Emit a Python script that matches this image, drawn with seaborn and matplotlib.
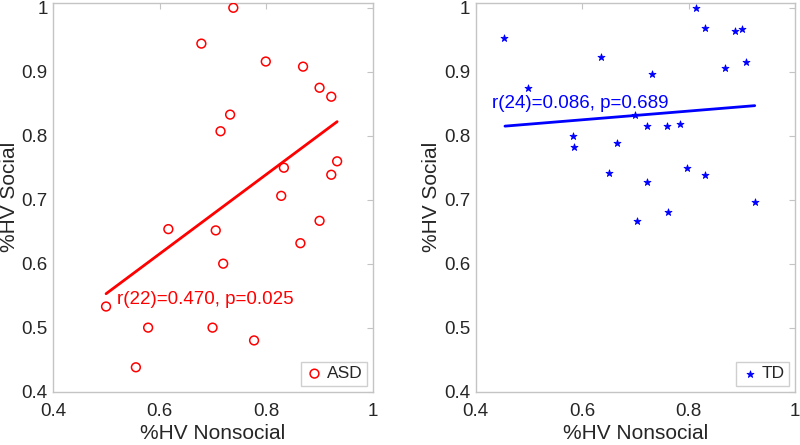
import matplotlib
matplotlib.use("Agg")
import matplotlib.pyplot as plt
import seaborn as sns
import pandas as pd

# ASD group
asd_nonsocial = [0.738, 0.678, 0.799, 0.869, 0.900, 0.922, 0.732, 0.714, 0.933, 0.833, 0.922,
                 0.828, 0.900, 0.616, 0.705, 0.864, 0.719, 0.499, 0.578, 0.699, 0.777, 0.555]
asd_social = [1.000, 0.944, 0.916, 0.908, 0.875, 0.861, 0.833, 0.807, 0.760, 0.750, 0.739,
              0.706, 0.667, 0.654, 0.652, 0.632, 0.600, 0.533, 0.500, 0.500, 0.480, 0.438]
asd_fit_x = [0.499, 0.933]
asd_fit_y = [0.553, 0.822]
asd_stats = "r(22)=0.470, p=0.025"

# TD group
td_nonsocial = [0.453, 0.499, 0.635, 0.732, 0.813, 0.831, 0.887, 0.901, 0.869, 0.908, 0.699, 0.582,
                0.585, 0.665, 0.721, 0.759, 0.784, 0.651, 0.721, 0.797, 0.831, 0.924, 0.703, 0.761]
td_social = [0.952, 0.875, 0.923, 0.897, 1.000, 0.969, 0.964, 0.967, 0.906, 0.916, 0.833, 0.800,
             0.782, 0.789, 0.815, 0.815, 0.818, 0.741, 0.727, 0.750, 0.739, 0.696, 0.667, 0.681]
td_fit_x = [0.455, 0.924]
td_fit_y = [0.815, 0.847]
td_stats = "r(24)=0.086, p=0.689"

ticks = [0.4, 0.5, 0.6, 0.7, 0.8, 0.9, 1.0]
tick_labels = ["0.4", "0.5", "0.6", "0.7", "0.8", "0.9", "1"]
xticks = [0.4, 0.6, 0.8, 1.0]
xtick_labels = ["0.4", "0.6", "0.8", "1"]

sns.set_style("white")
plt.rcParams['font.family'] = ['Liberation Sans', 'DejaVu Sans']

RED = "#ff0000"
BLUE = "#0000ff"
SPINE = "#c4c4c4"
TXT = "#262626"

fig = plt.figure(figsize=(8, 4.45), dpi=100)
ax1 = fig.add_axes([0.0667, 0.12, 0.3993, 0.874])
ax2 = fig.add_axes([0.5946, 0.12, 0.3994, 0.874])

df_asd = pd.DataFrame({'x': asd_nonsocial, 'y': asd_social})
df_td = pd.DataFrame({'x': td_nonsocial, 'y': td_social})

sns.scatterplot(x='x', y='y', data=df_asd, ax=ax1, marker='o', s=40, facecolors='none',
                edgecolor=RED, linewidth=1.1, label='ASD', zorder=3)
sns.lineplot(x=asd_fit_x, y=asd_fit_y, ax=ax1, color=RED, linewidth=2, legend=False)
ax1.text(0.52, 0.544, asd_stats, color=RED, fontsize=13.5, va='center', ha='left')

sns.scatterplot(x='x', y='y', data=df_td, ax=ax2, marker='*', s=28, color=BLUE,
                edgecolor=BLUE, linewidth=0.6, label='TD', zorder=3)
sns.lineplot(x=td_fit_x, y=td_fit_y, ax=ax2, color=BLUE, linewidth=2, legend=False)
ax2.text(0.43, 0.851, td_stats, color=BLUE, fontsize=13.5, va='center', ha='left')

for ax in (ax1, ax2):
    ax.set_xlim(0.4, 1.0)
    ax.set_ylim(0.4, 1.008)
    ax.set_xticks(xticks)
    ax.set_xticklabels(xtick_labels)
    ax.set_yticks(ticks)
    ax.set_yticklabels(tick_labels)
    ax.set_xlabel('%HV Nonsocial', fontsize=15, color=TXT, labelpad=3)
    ax.set_ylabel('%HV Social', fontsize=15, color=TXT, labelpad=2)
    ax.tick_params(direction='in', length=4, width=0.8, color=SPINE, labelcolor=TXT,
                   labelsize=13.5, top=True, right=True)
    ax.tick_params(axis='x', pad=8)
    ax.tick_params(axis='y', pad=4)
    for s in ax.spines.values():
        s.set_color(SPINE)
        s.set_linewidth(1)
    leg = ax.legend(loc='lower right', fontsize=12.5, frameon=True, fancybox=False,
                    borderaxespad=0.35, handletextpad=0.2, handlelength=1.0,
                    borderpad=0.25)
    leg.get_frame().set_edgecolor(SPINE)
    leg.get_frame().set_linewidth(1)

fig.savefig('out.png', dpi=100)
